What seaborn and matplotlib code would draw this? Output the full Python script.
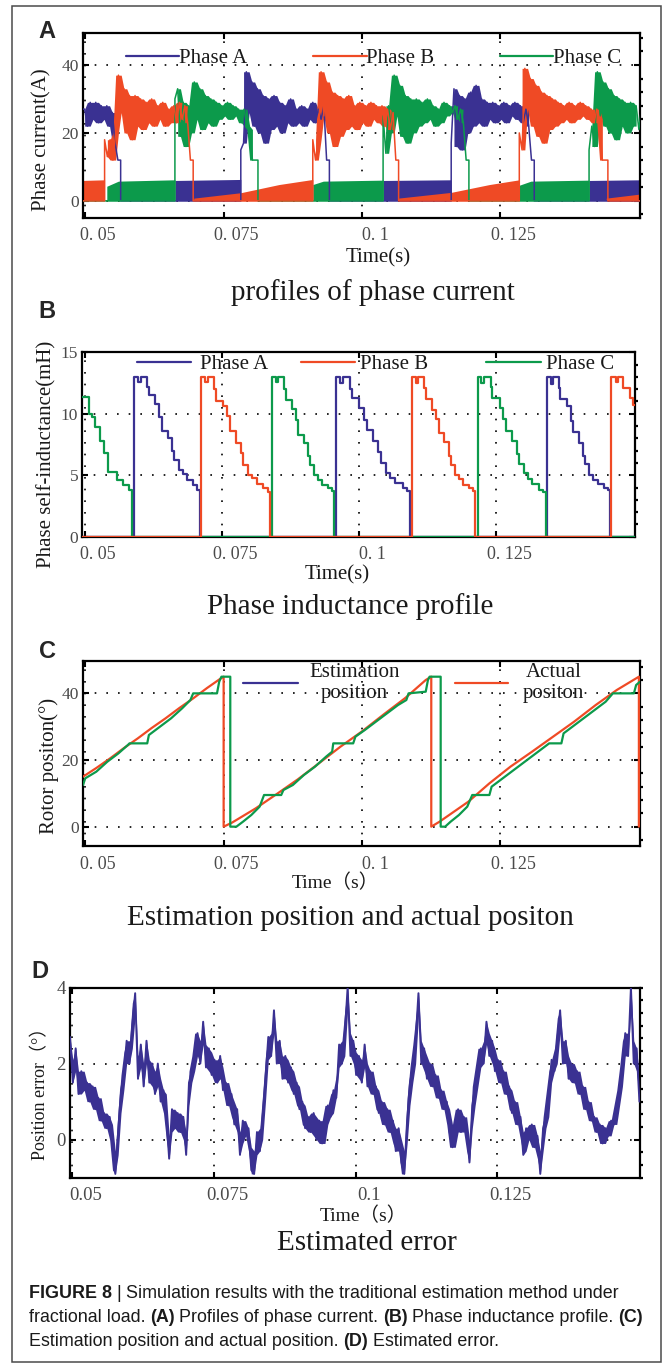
import numpy as np
import matplotlib
matplotlib.use("Agg")
import matplotlib.pyplot as plt
import seaborn as sns
from matplotlib.lines import Line2D
from matplotlib.legend import Legend
from matplotlib.patches import Rectangle
from matplotlib.transforms import ScaledTranslation
from matplotlib.ticker import MultipleLocator

# ============================ DATA ============================
STEP = 0.0005  # sampling interval of the noisy traces (s)

# ---- Panel A: phase currents (A) ----
# conducting stretches: (start time, samples every STEP)
blue_on = [
    (0.0494, [27, 27, 22, 29, 24, 29, 23, 28, 24, 28, 22, 26, 17, 12, 12]),
    (0.0781, [15, 17, 38, 26, 35, 22, 33, 20, 31, 17, 30, 21, 31, 22, 29, 20, 28, 23, 30, 22,
              27, 23, 28, 22, 27, 24, 29, 23, 27, 24, 28, 12, 12]),
    (0.1161, [17, 33, 16, 31, 15, 30, 20, 32, 22, 34, 23, 30, 22, 29, 24, 29, 23, 28, 24, 29,
              23, 28, 25, 29, 24, 28, 23, 27, 22, 12, 12]),
]
red_on = [
    (0.0535, [18, 13, 18, 12, 20, 37, 26, 33, 20, 31, 18, 31, 22, 30, 21, 29, 23, 30, 22, 28,
              24, 29, 22, 27, 23, 28, 23, 29, 24, 28, 23, 12, 12]),
    (0.0911, [18, 12, 18, 38, 25, 35, 20, 32, 16, 31, 19, 30, 21, 31, 22, 28, 21, 29, 23, 28,
              22, 29, 24, 28, 23, 28, 22, 27, 21, 26, 12, 12]),
    (0.1284, [20, 15, 39, 27, 36, 22, 34, 19, 32, 17, 31, 21, 30, 22, 29, 23, 28, 24, 29, 23,
              28, 24, 29, 25, 28, 24, 27, 23, 27, 24, 12, 12, 12]),
]
green_on = [
    (0.0662, [30, 33, 19, 29, 16, 28, 20, 35, 24, 33, 21, 31, 23, 30, 22, 29, 24, 28, 25, 29,
              24, 28, 25, 27, 23, 27, 22, 21, 12, 12, 12]),
    (0.1038, [25, 14, 28, 20, 37, 25, 34, 19, 31, 17, 30, 20, 30, 22, 29, 23, 30, 24, 28, 22,
              27, 23, 29, 25, 28, 26, 28, 24, 27, 23, 12, 12]),
    (0.1410, [15, 22, 16, 38, 25, 35, 22, 33, 20, 31, 18, 30, 22, 29, 20, 29, 22, 28, 21, 28]),
]
# low chopping bands: (times, band top)
blue_bands = [([0.0662, 0.0781], [6.0, 6.3]),
              ([0.1038, 0.1161], [6.0, 6.2]),
              ([0.1410, 0.1502], [6.0, 6.2])]
green_bands = [([0.0539, 0.0560, 0.0662], [4.3, 5.8, 6.2]),
               ([0.0911, 0.0930, 0.1038], [4.8, 5.8, 6.1]),
               ([0.1284, 0.1305, 0.1410], [4.6, 5.8, 6.1])]
red_bands = [([0.0494, 0.0535], [6.0, 6.2]),
             ([0.0696, 0.0781, 0.0850, 0.0911], [0.8, 2.4, 4.8, 6.3]),
             ([0.1065, 0.1161, 0.1230, 0.1284], [0.8, 2.5, 4.8, 6.2]),
             ([0.1441, 0.1502], [0.8, 2.0])]

# ---- Panel B: phase self-inductance (mH), step profiles ----
ind_a_t = [0.0490,
           0.0590, 0.0597, 0.0602, 0.0613, 0.0616, 0.0628, 0.0635, 0.0640, 0.0651, 0.0659, 0.0663, 0.0671, 0.0678, 0.0686, 0.0697, 0.0705, 0.0709,
           0.0957, 0.0965, 0.0971, 0.0983, 0.0987, 0.1000, 0.1008, 0.1014, 0.1026, 0.1035, 0.1039, 0.1049, 0.1057, 0.1066, 0.1079, 0.1088, 0.1092,
           0.1342, 0.1349, 0.1354, 0.1364, 0.1367, 0.1379, 0.1386, 0.1390, 0.1401, 0.1409, 0.1412, 0.1420, 0.1427, 0.1435, 0.1446, 0.1453, 0.1457,
           0.1510]
ind_a_v = [0,
           13.0, 12.6, 13.0, 12.2, 11.5, 10.8, 9.7, 8.6, 8.0, 7.0, 6.2, 5.4, 5.1, 4.6, 4.2, 3.8, 0,
           13.0, 12.5, 13.0, 12.0, 11.3, 10.5, 9.5, 8.7, 7.8, 6.9, 6.0, 5.2, 4.8, 4.4, 4.0, 3.7, 0,
           13.0, 12.4, 13.0, 12.1, 11.2, 10.6, 9.4, 8.5, 7.6, 6.6, 5.9, 5.0, 4.6, 4.3, 4.0, 3.8, 0,
           0]
ind_b_t = [0.0490,
           0.0711, 0.0719, 0.0724, 0.0735, 0.0739, 0.0751, 0.0759, 0.0764, 0.0775, 0.0784, 0.0788, 0.0797, 0.0804, 0.0813, 0.0824, 0.0833, 0.0837,
           0.1096, 0.1103, 0.1108, 0.1118, 0.1122, 0.1133, 0.1140, 0.1145, 0.1155, 0.1163, 0.1167, 0.1175, 0.1182, 0.1190, 0.1200, 0.1208, 0.1212,
           0.1460, 0.1468, 0.1472, 0.1481, 0.1493, 0.1500, 0.1510]
ind_b_v = [0,
           13.0, 12.6, 13.0, 12.0, 11.0, 10.6, 9.8, 8.6, 7.6, 6.8, 5.8, 5.0, 4.8, 4.3, 4.0, 3.6, 0,
           13.0, 12.5, 13.0, 12.1, 11.2, 10.3, 9.6, 8.4, 7.7, 6.6, 5.8, 5.0, 4.7, 4.2, 4.0, 3.7, 0,
           13.0, 12.6, 13.0, 12.1, 11.3, 10.7, 10.7]
ind_c_t = [0.0490, 0.0507, 0.0512, 0.0519, 0.0527, 0.0534, 0.0542, 0.0558, 0.0569, 0.0581, 0.0586,
           0.0841, 0.0848, 0.0852, 0.0862, 0.0866, 0.0877, 0.0884, 0.0888, 0.0899, 0.0907, 0.0910, 0.0918, 0.0925, 0.0933, 0.0943, 0.0950, 0.0954,
           0.1216, 0.1223, 0.1228, 0.1240, 0.1243, 0.1256, 0.1263, 0.1268, 0.1279, 0.1288, 0.1292, 0.1300, 0.1308, 0.1316, 0.1328, 0.1336, 0.1340,
           0.1510]
ind_c_v = [11.4, 10.0, 9.7, 8.9, 7.8, 6.8, 5.3, 4.6, 4.2, 3.8, 0,
           13.0, 12.6, 13.0, 12.0, 11.1, 10.4, 9.5, 8.3, 7.6, 6.6, 5.8, 5.0, 4.6, 4.2, 4.0, 3.7, 0,
           13.0, 12.5, 13.0, 12.2, 11.3, 10.5, 9.6, 8.6, 7.8, 6.7, 5.9, 5.2, 4.7, 4.3, 3.8, 3.6, 0,
           0]

# ---- Panel C: rotor position (deg) ----
actual_t = [0.0496, 0.0520, 0.0545, 0.0570, 0.0595, 0.0620, 0.0645, 0.0670, 0.0695, 0.0720, 0.0745, 0.0750,
            0.0750, 0.0765, 0.0808, 0.0846, 0.0884, 0.0922, 0.0961, 0.1000, 0.1040, 0.1078, 0.1115, 0.1125,
            0.1125, 0.1140, 0.1192, 0.1230, 0.1268, 0.1307, 0.1345, 0.1383, 0.1422, 0.1460, 0.1500, 0.1500]
actual_v = [15.0, 17.6, 20.5, 23.6, 26.5, 29.6, 32.5, 35.6, 38.5, 41.6, 44.5, 45.0,
            0.0, 1.2, 5.5, 9.8, 14.2, 19.0, 24.0, 28.6, 33.8, 38.6, 44.0, 45.0,
            0.0, 1.5, 7.5, 13.0, 18.0, 22.5, 27.0, 31.5, 36.5, 41.0, 45.0, 0.0]
est_t = [0.0496, 0.0500, 0.0520, 0.0540, 0.0560, 0.0577, 0.0580, 0.0612, 0.0615, 0.0635, 0.0655, 0.0675,
         0.0690, 0.0695, 0.0738, 0.0742, 0.0746, 0.0762, 0.0762, 0.0773, 0.0785, 0.0800, 0.0815, 0.0823,
         0.0854, 0.0858, 0.0875, 0.0895, 0.0915, 0.0935, 0.0946, 0.0948, 0.0984, 0.0988, 0.1005, 0.1025,
         0.1045, 0.1065, 0.1080, 0.1084, 0.1115, 0.1119, 0.1122, 0.1142, 0.1142, 0.1150, 0.1160, 0.1175,
         0.1190, 0.1199, 0.1230, 0.1234, 0.1250, 0.1270, 0.1290, 0.1310, 0.1330, 0.1338, 0.1360, 0.1364,
         0.1380, 0.1400, 0.1420, 0.1440, 0.1453, 0.1491, 0.1495, 0.1502]
est_v = [12.5, 14.5, 16.5, 19.5, 22.0, 24.5, 25.0, 25.0, 27.5, 30.0, 32.5, 35.5,
         38.0, 40.0, 40.0, 43.5, 45.0, 45.0, 0.0, 0.0, 1.5, 3.5, 6.0, 9.5,
         9.5, 11.0, 12.5, 15.5, 18.0, 21.0, 22.5, 25.0, 25.0, 27.0, 29.0, 31.5,
         34.0, 36.5, 38.0, 40.0, 40.5, 44.0, 45.0, 45.0, 0.0, 0.0, 1.5, 3.5,
         6.0, 9.5, 9.5, 12.0, 14.0, 16.5, 19.0, 21.5, 24.0, 25.0, 25.0, 28.0,
         30.0, 32.5, 35.0, 37.5, 40.0, 40.0, 42.5, 43.5]

# ---- Panel D: position error (deg), sampled every STEP from 0.0496 s ----
err_t0 = 0.0496
err_v = [2.7, 1.5, 2.4, 1.2, 1.8, 1.3, 1.5, 1.0, 1.4, 0.8,
         1.1, 0.5, 0.7, 0.3, 0.6, -0.2, -0.9, 0.2, 1.3, 1.7,
         2.6, 2.0, 3.0, 3.85, 1.6, 2.5, 1.4, 2.6, 1.5, 2.0,
         1.2, 2.0, 1.0, 1.3, 0.6, -0.5, 0.8, 0.3, 0.7, 0.2,
         0.6, -0.4, 1.5, 1.8, 2.2, 2.8, 2.0, 3.1, 1.9, 2.4,
         1.7, 2.1, 1.5, 2.2, 1.3, 1.5, 0.9, 1.2, 0.4, 0.8,
         -0.4, 0.5, 0.1, 0.3, -0.8, -0.9, 0.2, -0.3, 0.6, 1.6,
         2.7, 2.2, 3.4, 2.0, 2.6, 1.6, 2.2, 1.5, 1.9, 1.2,
         1.5, 0.8, 1.0, 0.3, 0.6, 0.2, 0.7, 0.0, 0.5, -0.1,
         0.4, 0.9, 0.6, 1.3, 1.1, 2.5, 2.0, 2.8, 4.0, 2.2,
         2.6, 1.7, 2.2, 1.5, 2.5, 1.4, 1.8, 1.2, 1.4, 0.7,
         1.0, 0.4, 0.8, 0.2, 0.5, -0.3, 0.3, -0.6, -0.9, 0.5,
         1.5, 1.9, 2.6, 3.85, 2.0, 2.4, 1.6, 2.0, 1.4, 1.7,
         1.1, 1.3, 0.8, 1.0, 0.2, -0.2, 0.4, 0.8, 0.2, 0.6,
         0.3, -0.6, 0.9, 1.4, 1.9, 2.4, 2.0, 3.1, 2.2, 2.6,
         1.8, 2.1, 1.5, 1.8, 1.2, 1.4, 0.7, 1.0, 0.4, 0.6,
         -0.4, 0.3, 0.0, 0.4, -0.2, 0.1, -0.9, 0.3, 0.6, 1.2,
         2.1, 1.8, 2.6, 3.4, 2.0, 2.6, 1.6, 2.0, 1.5, 1.8,
         1.2, 1.4, 0.8, 1.0, 0.5, 0.6, 0.2, 0.4, -0.1, 0.3,
         0.1, 0.5, 0.4, 0.9, 1.3, 2.0, 2.8, 2.2, 4.0, 2.0,
         2.4, 1.0]

# ---- tick labels / texts ----
xticks = [0.05, 0.075, 0.1, 0.125]
xlabels_spaced = ["0. 05", "0. 075", "0. 1", "0. 125"]
xlabels_plain = ["0.05", "0.075", "0.1", "0.125"]
phase_names = ["Phase A", "Phase B", "Phase C"]

# ============================ STYLE ============================
BLUE, RED, GREEN = "#3A3192", "#EF4A25", "#0C9A4B"
W, H, DPI = 667, 1365, 100

sns.set_theme(style="white")
plt.rcParams["font.family"] = ["Liberation Serif", "Noto Sans CJK SC", "DejaVu Sans"]
plt.rcParams["axes.unicode_minus"] = False

fig = plt.figure(figsize=(W / DPI, H / DPI), dpi=DPI)
fig.patch.set_facecolor("white")

# outer frame
fig.patches.append(Rectangle((12.3 / W, 1 - 1362 / H), (660.7 - 12.3) / W, (1362 - 6) / H,
                             transform=fig.transFigure, fill=False, edgecolor="#4a4a4a", lw=1.1))

R_A = (83.0, 640.0, 32.7, 217.5)
R_B = (82.3, 635.0, 352.3, 536.7)
R_C = (83.0, 640.0, 660.7, 846.0)
R_D = (70.0, 640.0, 987.5, 1177.7)


def make_ax(R):
    l, r, t, b = R
    return fig.add_axes([l / W, 1 - b / H, (r - l) / W, (b - t) / H])


def style(ax, R, xlim, ylim, yticks, xlabels, minor_step, xfs=13, yfs=12.5):
    ax.set_xlim(*xlim)
    ax.set_ylim(*ylim)
    ax.set_xticks(xticks)
    ax.set_xticklabels(xlabels, fontsize=xfs)
    ax.set_yticks(yticks)
    ax.set_yticklabels([str(v) for v in yticks], fontsize=yfs)
    ax.grid(True, which="major", color="black", linestyle=(0, (1, 6)), linewidth=1.2)
    ax.set_facecolor("white")
    for s in ax.spines.values():
        s.set_visible(True)
        s.set_color("black")
        s.set_linewidth(1.6)
    ax.tick_params(which="major", direction="in", length=4, width=1.5, top=True, right=True,
                   bottom=True, left=True, color="black", labelcolor="#4a4a4a")
    ax.tick_params(axis="x", which="major", pad=7)
    ax.tick_params(axis="y", which="major", pad=3)
    ax.yaxis.set_minor_locator(MultipleLocator(minor_step))
    ax.tick_params(axis="y", which="minor", direction="out", length=2.5, width=1.6,
                   left=False, right=True, color="black")
    off = ScaledTranslation(13 / DPI, 0, fig.dpi_scale_trans)
    for lab in ax.get_xticklabels():
        lab.set_transform(lab.get_transform() + off)


def place_xlabel(ax, R, text, cx, cy, fs=15):
    l, r, t, b = R
    ax.set_xlabel(text, fontsize=fs, color="#1a1a1a")
    ax.xaxis.set_label_coords((cx - l) / (r - l), (b - cy) / (b - t))
    ax.xaxis.label.set_va("center")


def place_ylabel(ax, R, text, cx, cy, fs=15):
    l, r, t, b = R
    ax.set_ylabel(text, fontsize=fs, color="#1a1a1a")
    ax.yaxis.set_label_coords((cx - l) / (r - l), (b - cy) / (b - t))
    ax.yaxis.label.set_va("center")


def entry(ax, R, color, label, x0, x1, xt, y, fs=15, spacing=1.2):
    l, r, t, b = R
    fpx = fs * DPI / 72
    h = Line2D([], [], color=color, lw=1.6)
    leg = Legend(ax, [h], [label], loc="center left",
                 bbox_to_anchor=((x0 - l) / (r - l), (b - y) / (b - t)),
                 frameon=False, fontsize=fs, handlelength=(x1 - x0) / fpx,
                 handletextpad=(xt - x1) / fpx, borderpad=0, borderaxespad=0)
    for tx in leg.get_texts():
        tx.set_multialignment("center")
        tx.set_linespacing(spacing)
        tx.set_color("#1a1a1a")
    ax.add_artist(leg)


def panel_letter(ch, x, y):
    fig.text(x / W, 1 - y / H, ch, fontsize=17, fontweight="bold",
             family=["Liberation Sans", "DejaVu Sans"], ha="center", va="center")


def title(text, cx, cy, fs=21):
    fig.text(cx / W, 1 - cy / H, text, fontsize=fs, ha="center", va="center", color="#1a1a1a")


def hull(v):
    """local (3-sample) min / max of a sampled noisy trace, used to shade its spread"""
    v = np.asarray(v, float)
    p = np.r_[v[0], v[:-1]]
    n = np.r_[v[1:], v[-1]]
    return np.minimum(np.minimum(p, v), n), np.maximum(np.maximum(p, v), n)


def trace(ax, on_list, color, t_start=0.0490, t_end=0.1510):
    ts, vs = [t_start], [0.0]
    for t_on, vals in on_list:
        times = t_on + STEP * np.arange(len(vals))
        core = slice(1, len(vals) - 2)
        lo, hi = hull(vals[core])
        ax.fill_between(times[core], lo, hi, color=color, lw=0, zorder=2.5)
        ts += [t_on] + list(times) + [times[-1]]
        vs += [0.0] + [float(v) for v in vals] + [0.0]
    ts.append(t_end)
    vs.append(0.0)
    sns.lineplot(x=np.array(ts), y=np.array(vs), sort=False, estimator=None, color=color,
                 lw=1.1, ax=ax, legend=False, zorder=3)


# ============================ PANEL A ============================
axA = make_ax(R_A)
for bands, on, col in [(blue_bands, blue_on, BLUE), (green_bands, green_on, GREEN), (red_bands, red_on, RED)]:
    for bt, btop in bands:
        axA.fill_between(bt, 0, btop, color=col, lw=0, zorder=2)
    trace(axA, on, col)
style(axA, R_A, (0.0496, 0.1502), (-4.9, 49.5), [0, 20, 40], xlabels_spaced, 4)
place_xlabel(axA, R_A, "Time(s)", 378, 258)
place_ylabel(axA, R_A, "Phase current(A)", 41.5, 140)
entry(axA, R_A, BLUE, phase_names[0], 126.3, 178.6, 178.6, 58.3)
entry(axA, R_A, RED, phase_names[1], 312.5, 366.5, 366.5, 58.3)
entry(axA, R_A, GREEN, phase_names[2], 499.6, 552.7, 552.7, 58.3)
panel_letter("A", 47, 31)
title("profiles of phase current", 373, 293)

# ============================ PANEL B ============================
axB = make_ax(R_B)
for tt, vv, col in [(ind_a_t, ind_a_v, BLUE), (ind_c_t, ind_c_v, GREEN), (ind_b_t, ind_b_v, RED)]:
    sns.lineplot(x=tt, y=vv, sort=False, estimator=None, color=col, lw=1.6, ax=axB,
                 legend=False, drawstyle="steps-post", zorder=3)
style(axB, R_B, (0.0495, 0.1503), (0, 15), [0, 5, 10, 15], xlabels_spaced, 1)
place_xlabel(axB, R_B, "Time(s)", 337, 575)
place_ylabel(axB, R_B, "Phase self-inductance(mH)", 46.8, 454)
entry(axB, R_B, BLUE, phase_names[0], 137, 191.3, 199.8, 364.3)
entry(axB, R_B, RED, phase_names[1], 301, 355, 360.5, 364.3)
entry(axB, R_B, GREEN, phase_names[2], 486, 540.8, 546, 364.3)
panel_letter("B", 46.8, 311)
title("Phase inductance profile", 350, 607)

# ============================ PANEL C ============================
axC = make_ax(R_C)
sns.lineplot(x=actual_t, y=actual_v, sort=False, estimator=None, color=RED, lw=1.6, ax=axC, legend=False, zorder=3)
sns.lineplot(x=est_t, y=est_v, sort=False, estimator=None, color=GREEN, lw=1.6, ax=axC, legend=False, zorder=3)
style(axC, R_C, (0.0496, 0.1502), (-5.8, 49.8), [0, 20, 40], xlabels_spaced, 4)
place_xlabel(axC, R_C, "Time（s）", 335, 883, fs=14)
place_ylabel(axC, R_C, "Rotor positon(°)", 48.9, 766)
entry(axC, R_C, BLUE, "Estimation\nposition", 243, 297.6, 309.5, 683, spacing=1.1)
entry(axC, R_C, RED, "Actual\npositon", 455, 508, 522.7, 683, spacing=1.1)
panel_letter("C", 47.6, 651.7)
title("Estimation position and actual positon", 350, 918)

# ============================ PANEL D ============================
axD = make_ax(R_D)
err_t = err_t0 + STEP * np.arange(len(err_v))
d_lo, d_hi = hull(err_v)
axD.fill_between(err_t, np.maximum(d_lo, np.asarray(err_v) - 0.6), np.minimum(d_hi, np.asarray(err_v) + 0.6),
                 color=BLUE, lw=0, zorder=2.5)
sns.lineplot(x=err_t, y=err_v, sort=False, estimator=None, color=BLUE, lw=1.4, ax=axD, legend=False, zorder=3)
style(axD, R_D, (0.0496, 0.1502), (-1.0, 4.0), [0, 2, 4], xlabels_plain, 0.333, xfs=13.5, yfs=13.5)
place_xlabel(axD, R_D, "Time（s）", 363.5, 1216, fs=14)
place_ylabel(axD, R_D, "Position error（°）", 40.4, 1089, fs=13)
panel_letter("D", 40.4, 971.7)
title("Estimated error", 367, 1243)

# ============================ CAPTION ============================
CAP_FAM = ["Liberation Sans", "DejaVu Sans"]
CAP_FS = 12.9
renderer = fig.canvas.get_renderer()


def text_w(s, bold):
    t = fig.text(0, 0, s, fontsize=CAP_FS, family=CAP_FAM, fontweight="bold" if bold else "normal")
    w = t.get_window_extent(renderer).width
    t.remove()
    return w


SPACE = 0.9 * (text_w("x x", False) - text_w("xx", False))


def rich_line(x_px, y_px, pieces):
    x = x_px
    for s, bold in pieces:
        t = fig.text(x / W, 1 - y_px / H, s, fontsize=CAP_FS, family=CAP_FAM,
                     fontweight="bold" if bold else "normal", ha="left", va="center", color="#1a1a1a")
        x += t.get_window_extent(renderer).width + SPACE


rich_line(29.3, 1293, [("FIGURE 8", True), ("|", False),
                       ("Simulation results with the traditional estimation method under", False)])
rich_line(29.3, 1318, [("fractional load.", False), ("(A)", True), ("Profiles of phase current.", False),
                       ("(B)", True), ("Phase inductance profile.", False), ("(C)", True)])
rich_line(29.3, 1342, [("Estimation position and actual position.", False), ("(D)", True),
                       ("Estimated error.", False)])

fig.savefig("out.png", dpi=DPI, facecolor="white")
